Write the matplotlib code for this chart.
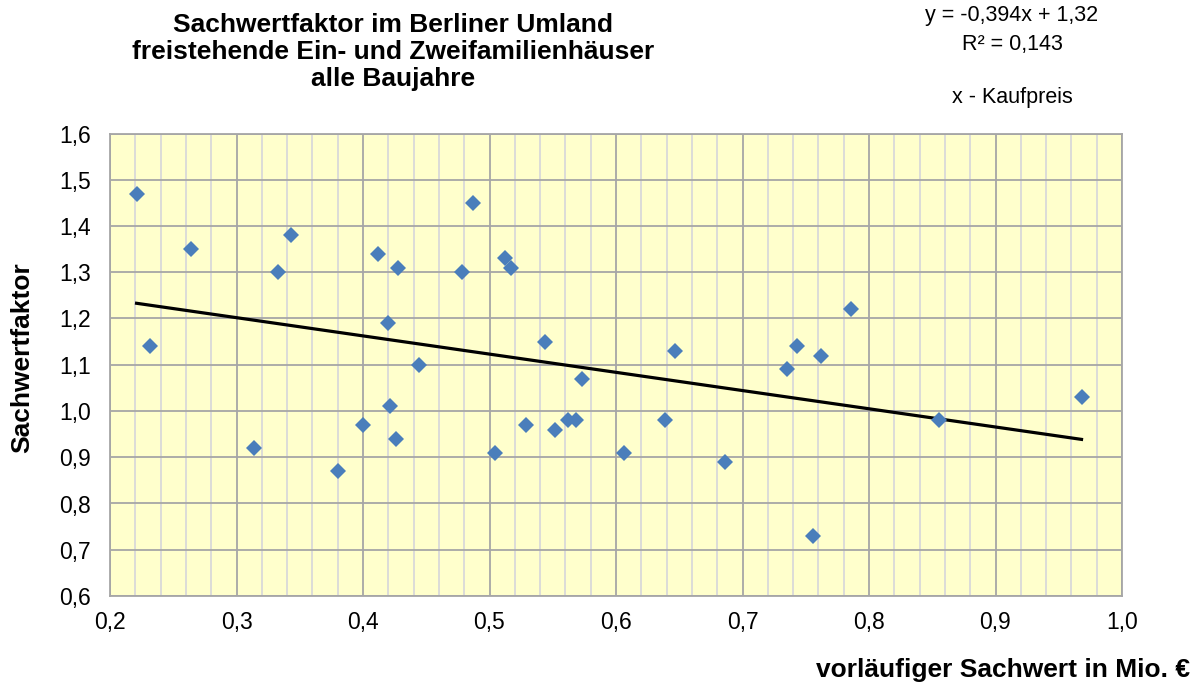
# Sachwertfaktor im Berliner Umland - Streudiagramm mit linearem Trend

import matplotlib
matplotlib.use("Agg")
import matplotlib.pyplot as plt
import numpy as np
from matplotlib.ticker import MultipleLocator, FuncFormatter

plt.rcParams['font.family'] = ['Liberation Sans', 'DejaVu Sans']

# vorläufiger Sachwert in Mio. €
sachwert = [0.221, 0.232, 0.264, 0.314, 0.333, 0.343, 0.380, 0.400, 0.412,
            0.420, 0.421, 0.426, 0.428, 0.444, 0.478, 0.487, 0.504, 0.512,
            0.517, 0.529, 0.544, 0.552, 0.562, 0.568, 0.573, 0.606, 0.639,
            0.647, 0.686, 0.735, 0.743, 0.756, 0.762, 0.786, 0.855, 0.968]
# Sachwertfaktor
faktor = [1.47, 1.14, 1.35, 0.92, 1.30, 1.38, 0.87, 0.97, 1.34,
          1.19, 1.01, 0.94, 1.31, 1.10, 1.30, 1.45, 0.91, 1.33,
          1.31, 0.97, 1.15, 0.96, 0.98, 0.98, 1.07, 0.91, 0.98,
          1.13, 0.89, 1.09, 1.14, 0.73, 1.12, 1.22, 0.98, 1.03]

# Trendlinie laut Diagramm
slope = -0.394
intercept = 1.32
r2 = 0.143

fig = plt.figure(figsize=(12.01, 6.89), dpi=100)
ax = fig.add_axes([110 / 1201, 1 - 596 / 689, 1012 / 1201, 462.5 / 689])
ax.set_facecolor('#FFFFCC')

ax.set_xlim(0.2, 1.0)
ax.set_ylim(0.6, 1.6)
ax.xaxis.set_major_locator(MultipleLocator(0.1))
ax.xaxis.set_minor_locator(MultipleLocator(0.02))
ax.yaxis.set_major_locator(MultipleLocator(0.1))

fmt = FuncFormatter(lambda v, pos: f'{v:.1f}'.replace('.', ','))
ax.xaxis.set_major_formatter(fmt)
ax.yaxis.set_major_formatter(fmt)

ax.grid(which='minor', axis='x', color='#D9D9D9', linewidth=1.3)
ax.grid(which='major', axis='both', color='#A6A6A6', linewidth=1.3)
ax.set_axisbelow(True)

ax.tick_params(which='both', length=0)
ax.tick_params(axis='x', labelsize=16.5, pad=11)
ax.tick_params(axis='y', labelsize=16.5, pad=14)
for s in ax.spines.values():
    s.set_color('#A6A6A6')
    s.set_linewidth(1.3)

# Trendlinie
xs = np.array([min(sachwert), max(sachwert)])
ax.plot(xs, slope * xs + intercept, color='black', linewidth=2.3, zorder=3)

# Punkte
ax.plot(sachwert, faktor, linestyle='none', marker='D', markersize=8,
        color='#4A7EBB', markeredgewidth=0, zorder=4)

# Titel
fig.text(393 / 1201, 1 - 52 / 689,
         'Sachwertfaktor im Berliner Umland\n'
         'freistehende Ein- und Zweifamilienhäuser\n'
         'alle Baujahre',
         ha='center', va='center', fontsize=19, fontweight='bold',
         linespacing=1.17)

# Gleichung
fig.text(1012 / 1201, 1 - 30 / 689,
         f'y = {slope:.3f}x + {intercept:.2f}'.replace('.', ',') + '\n'
         + f'R² = {r2:.3f}'.replace('.', ','),
         ha='center', va='center', fontsize=15.5, linespacing=1.45)
fig.text(1012 / 1201, 1 - 97 / 689, 'x - Kaufpreis',
         ha='center', va='center', fontsize=15.5)

# Achsenbeschriftungen
fig.text(1190 / 1201, 1 - 670 / 689, 'vorläufiger Sachwert in Mio. €',
         ha='right', va='center', fontsize=19, fontweight='bold')
fig.text(22 / 1201, 1 - 358 / 689, 'Sachwertfaktor', rotation=90,
         ha='center', va='center', fontsize=19, fontweight='bold')

plt.savefig('out.png', dpi=100)
